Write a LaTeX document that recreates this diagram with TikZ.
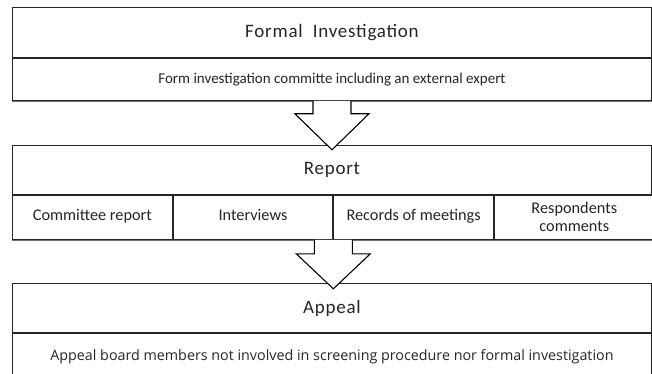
\documentclass[tikz,border=0pt]{standalone}
\usepackage{fontspec}
\setmainfont{Carlito}
\newfontfamily\titlefont[LetterSpace=4]{Carlito}
\newfontfamily\widefont{Open Sans}
\usetikzlibrary{calc}
\begin{document}
\begin{tikzpicture}[x=1pt,y=1pt,
  box/.style={draw=black!85, line width=0.9pt, fill=white, rectangle, inner sep=0pt,
    minimum width=639pt, anchor=north west, text=black!85},
  titlebox/.style={box, font=\titlefont\fontsize{19}{22}\selectfont},
  subbox/.style={box, font=\fontsize{15}{17}\selectfont},
  cell/.style={box, minimum width=159.75pt, minimum height=44pt, align=center,
    font=\fontsize{16.3}{18}\selectfont},
  shadow/.style={draw=black!55, line width=1pt},
  blockarrow/.style={draw=black, line width=1.1pt, fill=white, line join=miter}]
\useasboundingbox (0,0) rectangle (652,-374);
\clip (0,0) rectangle (652,-374);
% Formal investigation
\node[titlebox, minimum height=50pt] (fi) at (12,-7) {Formal\ \ Investigation};
\node[subbox, minimum height=42pt] (fisub) at (fi.south west) {Form investigation committe including an external expert};
\draw[shadow] ($(fisub.south west)+(0,-0.8)$) -- ($(fisub.south east)+(0,-0.8)$);
% Report
\node[titlebox, minimum height=49pt] (rep) at (12,-145) {Report};
\node[cell] (c1) at (rep.south west) {\strut Committee report};
\node[cell] (c2) at (c1.north east) {\strut Interviews};
\node[cell] (c3) at (c2.north east) {\strut Records of meetings};
\node[cell] (c4) at (c3.north east) {Respondents\\comments};
\draw[shadow] ($(c1.south west)+(0,-0.8)$) -- ($(c4.south east)+(0,-0.8)$);
% Appeal
\node[titlebox, minimum height=49pt] (app) at (12,-283) {Appeal};
\node[subbox, minimum height=46pt, font=\widefont\fontsize{14.3}{17}\selectfont] (appsub) at (app.south west) {Appeal board members not involved in screening procedure nor formal investigation};
% arrows
\coordinate (a1) at (fisub.south);
\draw[blockarrow] ($(a1)+(-19,0)$) -- ($(a1)+(-19,-13)$) -- ($(a1)+(-37,-13)$) -- ($(a1)+(0,-49)$)
  -- ($(a1)+(37,-13)$) -- ($(a1)+(19,-13)$) -- ($(a1)+(19,0)$);
\coordinate (a2) at (c2.south east);
\draw[blockarrow] ($(a2)+(-19,0)$) -- ($(a2)+(-19,-14)$) -- ($(a2)+(-37,-14)$) -- ($(a2)+(0,-49)$)
  -- ($(a2)+(37,-14)$) -- ($(a2)+(19,-14)$) -- ($(a2)+(19,0)$);
\end{tikzpicture}
\end{document}
